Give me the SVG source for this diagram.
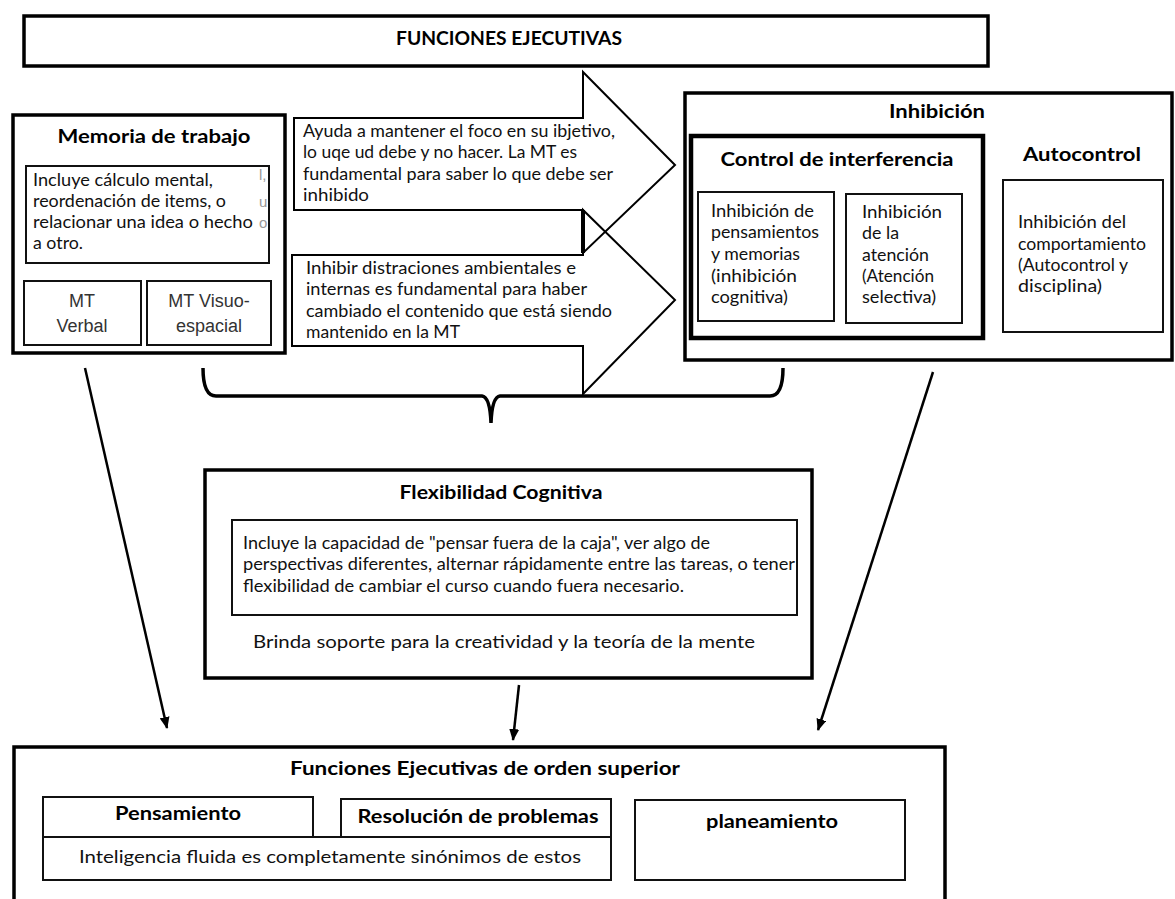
<svg xmlns="http://www.w3.org/2000/svg" width="1175" height="899" viewBox="0 0 1175 899">
<style>
.box{fill:#fff;stroke:#000;stroke-width:3.5}
.thin{fill:#fff;stroke:#111;stroke-width:2}
.heavy{fill:#fff;stroke:#000;stroke-width:4.5}
.t{font-family:Lato,"Open Sans","Noto Sans",sans-serif;font-size:17px;fill:#111}
.b{font-family:Lato,"Open Sans","Noto Sans",sans-serif;font-weight:bold;fill:#000}
.a{font-family:"Liberation Sans",Arial,sans-serif;font-size:18px;fill:#333}
.g{font-family:"Liberation Sans",Arial,sans-serif;font-size:15px;fill:#999}
.ar{fill:none;stroke:#000;stroke-width:2}
.arf{fill:#fff;stroke:none}
.con{fill:none;stroke:#000;stroke-width:2.5}
</style>
<defs>
<marker id="ah" viewBox="0 0 12 10" refX="11" refY="5" markerWidth="12" markerHeight="10" markerUnits="userSpaceOnUse" orient="auto">
<path d="M0,0 L12,5 L0,10 Z" fill="#000"/>
</marker>
</defs>
<rect width="1175" height="899" fill="#fff"/>

<g id="titulo">
<rect class="box" x="24" y="16" width="964" height="50"/>
<text class="b" x="509" y="45" font-size="18" text-anchor="middle" textLength="226" lengthAdjust="spacingAndGlyphs">FUNCIONES EJECUTIVAS</text>
</g>

<g id="memoria">
<rect class="box" x="13" y="115" width="272" height="238"/>
<text class="b" x="154" y="143" font-size="19" text-anchor="middle" textLength="193" lengthAdjust="spacingAndGlyphs">Memoria de trabajo</text>
<rect class="thin" x="26" y="166" width="243" height="97"/>
<text class="g" x="259" y="180">l,</text>
<text class="g" x="259" y="207">u</text>
<text class="g" x="259" y="228">o</text>
<text class="t" x="33" y="186" textLength="180" lengthAdjust="spacingAndGlyphs">Incluye cálculo mental,</text>
<text class="t" x="33" y="207" textLength="193" lengthAdjust="spacingAndGlyphs">reordenación de items, o</text>
<text class="t" x="33" y="228" textLength="220" lengthAdjust="spacingAndGlyphs">relacionar una idea o hecho</text>
<text class="t" x="33" y="249" textLength="50" lengthAdjust="spacingAndGlyphs">a otro.</text>
</g>
<g id="mt-verbal">
<rect class="thin" x="24" y="281" width="117" height="64"/>
<text class="a" x="82" y="307" text-anchor="middle">MT</text>
<text class="a" x="82" y="332" text-anchor="middle">Verbal</text>
</g>
<g id="mt-visuo">
<rect class="thin" x="147" y="281" width="124" height="64"/>
<text class="a" x="209" y="307" text-anchor="middle">MT Visuo-</text>
<text class="a" x="209" y="332" text-anchor="middle">espacial</text>
</g>

<g id="flechas-grandes">
<path class="arf" d="M294,118 L583,118 L583,72 L675,165 L583,253 L583,210 L294,210 Z"/>
<path class="arf" d="M292,255 L583,255 L583,210 L675,300 L583,394 L583,346 L292,346 Z"/>
<path class="ar" d="M294,118 L583,118 L583,72 L675,165 L583,253 L583,210 L294,210 Z"/>
<path class="ar" d="M292,255 L583,255 L583,210 L675,300 L583,394 L583,346 L292,346 Z"/>
<line x1="583" y1="210" x2="583" y2="253" stroke="#000" stroke-width="4"/>
</g>
<g id="flecha-1">
<text class="t" x="303" y="137" textLength="312" lengthAdjust="spacingAndGlyphs">Ayuda a mantener el foco en su ibjetivo,</text>
<text class="t" x="303" y="158" textLength="274" lengthAdjust="spacingAndGlyphs">lo uqe ud debe y no hacer. La MT es</text>
<text class="t" x="303" y="180" textLength="310" lengthAdjust="spacingAndGlyphs">fundamental para saber lo que debe ser</text>
<text class="t" x="303" y="201" textLength="66" lengthAdjust="spacingAndGlyphs">inhibido</text>
</g>
<g id="flecha-2">
<text class="t" x="306" y="274" textLength="270" lengthAdjust="spacingAndGlyphs">Inhibir distraciones ambientales e</text>
<text class="t" x="306" y="295" textLength="281" lengthAdjust="spacingAndGlyphs">internas es fundamental para haber</text>
<text class="t" x="306" y="317" textLength="306" lengthAdjust="spacingAndGlyphs">cambiado el contenido que está siendo</text>
<text class="t" x="306" y="338" textLength="154" lengthAdjust="spacingAndGlyphs">mantenido en la MT</text>
</g>

<g id="inhibicion">
<rect class="box" x="685" y="93" width="487" height="267"/>
<text class="b" x="937" y="118" font-size="18" text-anchor="middle" textLength="96" lengthAdjust="spacingAndGlyphs">Inhibición</text>
</g>
<g id="control-interferencia">
<rect class="heavy" x="691" y="136" width="292" height="202"/>
<text class="b" x="837" y="166" font-size="19" text-anchor="middle" textLength="233" lengthAdjust="spacingAndGlyphs">Control de interferencia</text>
</g>
<g id="inhibicion-pensamientos">
<rect class="thin" x="698" y="192" width="136" height="129"/>
<text class="t" x="711" y="217" textLength="103" lengthAdjust="spacingAndGlyphs">Inhibición de</text>
<text class="t" x="711" y="238" textLength="108" lengthAdjust="spacingAndGlyphs">pensamientos</text>
<text class="t" x="711" y="260" textLength="89" lengthAdjust="spacingAndGlyphs">y memorias</text>
<text class="t" x="711" y="282" textLength="86" lengthAdjust="spacingAndGlyphs">(inhibición</text>
<text class="t" x="711" y="303" textLength="77" lengthAdjust="spacingAndGlyphs">cognitiva)</text>
</g>
<g id="inhibicion-atencion">
<rect class="thin" x="846" y="194" width="116" height="129"/>
<text class="t" x="862" y="218" textLength="80" lengthAdjust="spacingAndGlyphs">Inhibición</text>
<text class="t" x="862" y="239" textLength="37" lengthAdjust="spacingAndGlyphs">de la</text>
<text class="t" x="862" y="261" textLength="67" lengthAdjust="spacingAndGlyphs">atención</text>
<text class="t" x="862" y="282" textLength="72" lengthAdjust="spacingAndGlyphs">(Atención</text>
<text class="t" x="862" y="303" textLength="74" lengthAdjust="spacingAndGlyphs">selectiva)</text>
</g>
<g id="autocontrol">
<text class="b" x="1082" y="161" font-size="19" text-anchor="middle" textLength="118" lengthAdjust="spacingAndGlyphs">Autocontrol</text>
<rect class="thin" x="1003" y="180" width="160" height="152"/>
<text class="t" x="1018" y="228" textLength="108" lengthAdjust="spacingAndGlyphs">Inhibición del</text>
<text class="t" x="1018" y="250" textLength="128" lengthAdjust="spacingAndGlyphs">comportamiento</text>
<text class="t" x="1018" y="271" textLength="110" lengthAdjust="spacingAndGlyphs">(Autocontrol y</text>
<text class="t" x="1018" y="292" textLength="84" lengthAdjust="spacingAndGlyphs">disciplina)</text>
</g>

<g id="flexibilidad">
<rect class="box" x="205" y="470" width="607" height="208"/>
<text class="b" x="501" y="499" font-size="18" text-anchor="middle" textLength="203" lengthAdjust="spacingAndGlyphs">Flexibilidad Cognitiva</text>
<rect class="thin" x="232" y="520" width="565" height="95"/>
<text class="t" x="243" y="549" textLength="467" lengthAdjust="spacingAndGlyphs">Incluye la capacidad de "pensar fuera de la caja", ver algo de</text>
<text class="t" x="243" y="570" textLength="552" lengthAdjust="spacingAndGlyphs">perspectivas diferentes, alternar rápidamente entre las tareas, o tener</text>
<text class="t" x="243" y="592" textLength="441" lengthAdjust="spacingAndGlyphs">flexibilidad de cambiar el curso cuando fuera necesario.</text>
<text class="t" x="504" y="648" font-size="18.5" text-anchor="middle" textLength="502" lengthAdjust="spacingAndGlyphs">Brinda soporte para la creatividad y la teoría de la mente</text>
</g>

<g id="orden-superior">
<rect class="box" x="14" y="747" width="931" height="170"/>
<text class="b" x="485" y="775" font-size="19" text-anchor="middle" textLength="390" lengthAdjust="spacingAndGlyphs">Funciones Ejecutivas de orden superior</text>
</g>
<g id="pensamiento">
<rect class="thin" x="43" y="797" width="270" height="40"/>
<text class="b" x="178" y="820" font-size="19" text-anchor="middle" textLength="126" lengthAdjust="spacingAndGlyphs">Pensamiento</text>
</g>
<g id="resolucion">
<rect class="thin" x="341" y="799" width="270" height="38"/>
<text class="b" x="478" y="823" font-size="19" text-anchor="middle" textLength="241" lengthAdjust="spacingAndGlyphs">Resolución de problemas</text>
</g>
<g id="inteligencia">
<rect class="thin" x="43" y="837" width="568" height="43"/>
<text class="t" x="330" y="863" font-size="18.5" text-anchor="middle" textLength="502" lengthAdjust="spacingAndGlyphs">Inteligencia fluida es completamente sinónimos de estos</text>
</g>
<g id="planeamiento">
<rect class="thin" x="635" y="800" width="270" height="80"/>
<text class="b" x="772" y="828" font-size="19" text-anchor="middle" textLength="132" lengthAdjust="spacingAndGlyphs">planeamiento</text>
</g>

<g id="conectores">
<path d="M203,368 Q203,396 216,396 L482,396 Q490,397 491,423 Q492,397 500,396 L770,396 Q783,396 783,368" fill="none" stroke="#000" stroke-width="3.5"/>
<line class="con" x1="85" y1="368" x2="167" y2="728" marker-end="url(#ah)"/>
<line class="con" x1="933" y1="372" x2="818" y2="730" marker-end="url(#ah)"/>
<line class="con" x1="519" y1="685" x2="513" y2="740" marker-end="url(#ah)"/>
</g>
</svg>
